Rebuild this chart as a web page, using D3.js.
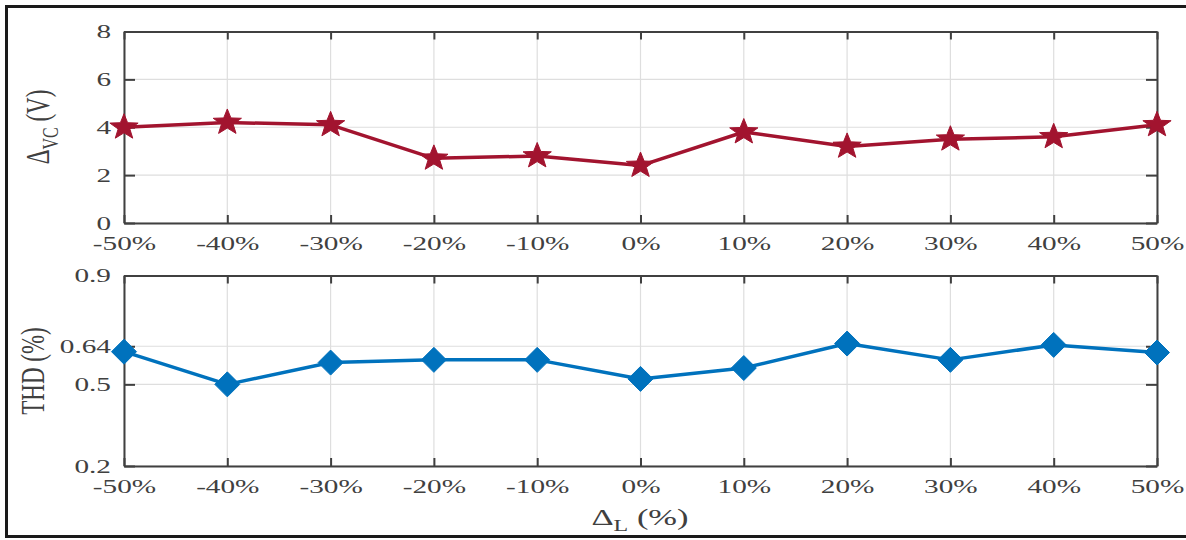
<!DOCTYPE html>
<html>
<head>
<meta charset="utf-8">
<script src="https://cdn.jsdelivr.net/npm/d3@7"></script>
<style>
  html, body { margin: 0; padding: 0; background: #fff; }
  svg { display: block; }
  text { font-family: "Liberation Serif", "Times New Roman", serif; fill: #404040; }
</style>
</head>
<body>
<svg id="chart" width="1186" height="540"></svg>
<script>
// Inductance deviation (x categories)
const deltaL = [-50, -40, -30, -20, -10, 0, 10, 20, 30, 40, 50];
const xTickLabels = ["-50%", "-40%", "-30%", "-20%", "-10%", "0%", "10%", "20%", "30%", "40%", "50%"];

// Capacitor voltage ripple (V)
const deltaVC = [4.0, 4.2, 4.1, 2.7, 2.8, 2.4, 3.8, 3.2, 3.5, 3.6, 4.1];
const vcTicks = [0, 2, 4, 6, 8];

// Total harmonic distortion (%)
const thd = [0.62, 0.50, 0.58, 0.59, 0.59, 0.52, 0.56, 0.65, 0.59, 0.645, 0.617];
const thdTicks = [0.2, 0.5, 0.64, 0.9];

const svg = d3.select("#chart");
const W = 1186, H = 540;
const STRETCH = 1.5;            // wide glyph aspect used for all labels
const RED = "#A2142F", BLUE = "#0072BD", AXIS = "#404040", GRID = "#dedede";

// outer frame
svg.append("path")
  .attr("d", `M${W + 5},6.5 H6.5 V536.5 H${W + 5}`)
  .attr("fill", "none").attr("stroke", "#1a1a1a").attr("stroke-width", 3);

const left = 124, right = 1157;
const x = d3.scaleLinear().domain([-50, 50]).range([left, right]);

function panel(top, bottom, yDomain, yTicks, yFmt, values, color, marker) {
  const y = d3.scaleLinear().domain(yDomain).range([bottom, top]);
  const g = svg.append("g");

  // grid
  g.append("g").selectAll("line").data(deltaL).join("line")
    .attr("x1", d => x(d)).attr("x2", d => x(d)).attr("y1", top).attr("y2", bottom)
    .attr("stroke", GRID).attr("stroke-width", 1.2);
  g.append("g").selectAll("line").data(yTicks).join("line")
    .attr("x1", left).attr("x2", right).attr("y1", d => y(d)).attr("y2", d => y(d))
    .attr("stroke", GRID).attr("stroke-width", 1.2);

  // axes with inward ticks
  const xb = g.append("g").attr("transform", `translate(0,${bottom})`)
    .call(d3.axisBottom(x).tickValues(deltaL).tickSizeInner(-8).tickSizeOuter(0)
      .tickFormat((d, i) => xTickLabels[i]));
  const xt = g.append("g").attr("transform", `translate(0,${top})`)
    .call(d3.axisTop(x).tickValues(deltaL).tickSizeInner(-8).tickSizeOuter(0).tickFormat(""));
  const yl = g.append("g").attr("transform", `translate(${left},0)`)
    .call(d3.axisLeft(y).tickValues(yTicks).tickSizeInner(-11).tickSizeOuter(0).tickFormat(yFmt));
  const yr = g.append("g").attr("transform", `translate(${right},0)`)
    .call(d3.axisRight(y).tickValues(yTicks).tickSizeInner(-11).tickSizeOuter(0).tickFormat(""));

  [xb, xt, yl, yr].forEach(a => {
    a.select(".domain").attr("stroke", AXIS).attr("stroke-width", 2);
    a.selectAll(".tick line").attr("stroke", AXIS).attr("stroke-width", 2);
  });
  xb.selectAll(".tick text")
    .attr("y", 0).attr("dy", 0)
    .attr("font-size", 19.5).attr("fill", AXIS)
    .attr("transform", `translate(0,27) scale(${STRETCH},1)`);
  yl.selectAll(".tick text")
    .attr("x", 0).attr("dy", "0.33em")
    .attr("font-size", 19.5).attr("fill", AXIS).attr("text-anchor", "end")
    .attr("transform", `translate(-13,0) scale(${STRETCH},1)`);

  // data line
  g.append("path").datum(values)
    .attr("d", d3.line().x((d, i) => x(deltaL[i])).y(d => y(d)))
    .attr("fill", "none").attr("stroke", color).attr("stroke-width", 3.5)
    .attr("stroke-linejoin", "round");

  // markers
  g.append("g").selectAll("path").data(values).join("path")
    .attr("transform", (d, i) => `translate(${x(deltaL[i])},${y(d)})`)
    .attr("d", marker)
    .attr("fill", color).attr("stroke", color).attr("stroke-width", 1);
  return y;
}

// five-pointed star path
function starPath(R, r) {
  const pts = [];
  for (let k = 0; k < 10; k++) {
    const rad = k % 2 === 0 ? R : r;
    const a = -Math.PI / 2 + k * Math.PI / 5;
    pts.push([rad * Math.cos(a) * 1.1, rad * Math.sin(a)]);
  }
  return "M" + pts.map(p => p.join(",")).join("L") + "Z";
}
function diamondPath(h) {
  return `M0,${-h}L${h},0L0,${h}L${-h},0Z`;
}

panel(31.5, 223, [0, 8], vcTicks, d => String(d), deltaVC, RED, starPath(13.5, 5.6));
panel(275.5, 466, [0.2, 0.9], thdTicks, d => String(d), thd, BLUE, diamondPath(12.5));

// axis titles
function stretchedLabel(tx, ty, rotate, parts) {
  const t = svg.append("text")
    .attr("transform", `translate(${tx},${ty}) scale(${STRETCH},1)` + (rotate ? " rotate(-90)" : ""))
    .attr("text-anchor", "middle").attr("font-size", 23).attr("fill", AXIS);
  parts.forEach(p => {
    t.append("tspan").text(p.text)
      .attr("font-size", p.sub ? 16 : 23)
      .attr("dy", p.dy || 0);
  });
  return t;
}

stretchedLabel(49, 127, true, [
  { text: "Δ" }, { text: "VC", sub: true, dy: 6 }, { text: " (V)", dy: -6 }
]);
stretchedLabel(44, 371, true, [{ text: "THD (%)" }]);
stretchedLabel(640, 525, false, [
  { text: "Δ" }, { text: "L", sub: true, dy: 6 }, { text: " (%)", dy: -6 }
]);
</script>
</body>
</html>
